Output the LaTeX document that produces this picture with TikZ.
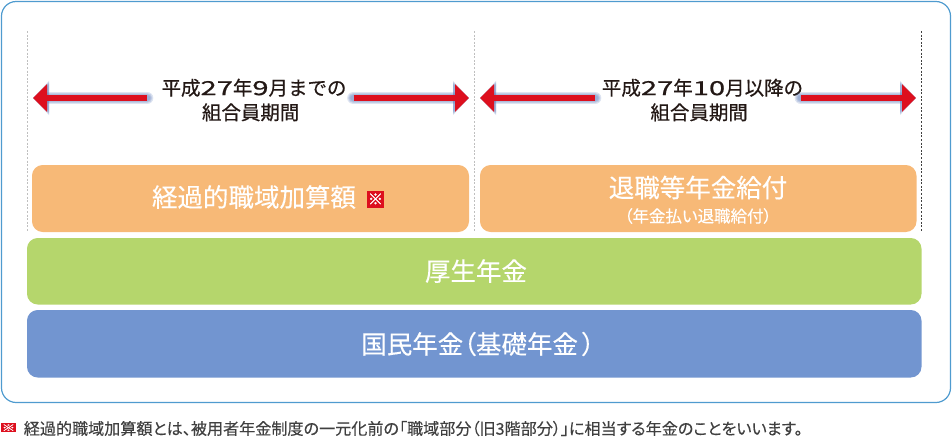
\documentclass[tikz,border=0pt]{standalone}
\usepackage{fontspec}
\usepackage{graphicx}
\usetikzlibrary{arrows.meta}
\setmainfont{Noto Sans CJK JP}[RawFeature=+palt]
\newfontfamily\fullwidthjp{Noto Sans CJK JP}[FakeBold=0.6]
\newfontfamily\semijp{Noto Sans CJK JP}[RawFeature=+palt, FakeBold=0.25]
\newfontfamily\heavyjp{Noto Sans CJK JP}[RawFeature=+palt, FakeBold=0.9]
\definecolor{framec}{HTML}{4F9BCF}
\definecolor{orangec}{HTML}{F7B977}
\definecolor{greenc}{HTML}{B5D66C}
\definecolor{bluec}{HTML}{7295D0}
\definecolor{redc}{HTML}{DD0F1E}
\definecolor{haloc}{HTML}{5A78B8}
\definecolor{inkc}{HTML}{231815}
\definecolor{notec}{HTML}{404040}
\newcommand{\pxfont}[1]{\fontsize{\dimexpr#1pt*3/4\relax}{\dimexpr#1pt*9/10\relax}\selectfont}
% digits of the period labels are set wide
\newcommand{\widedigits}[1]{\scalebox{1.5}[1]{#1}}
\tikzset{
  x=0.75pt, y=-0.75pt,
  guide/.style={dash pattern=on 1.5pt off 1.2pt, line width=0.5pt},
  period/.style={text=inkc, align=center, inner sep=0pt, font=\fullwidthjp\fontsize{14.6pt}{18.4pt}\selectfont},
  onband/.style={text=white, inner sep=0pt, font=\semijp\pxfont{25.5}},
  redarrow/.style={draw=redc, line width=4.4pt, -{Triangle[length=10.5pt,width=20pt,fill=redc]}},
  haloarrow/.style n args={2}{draw=haloc, line width=#1, line cap=round, opacity=0.2,
    -{Triangle[length=12pt,width=#2,fill=haloc]}},
}
% period arrow with a soft blue drop shadow
\newcommand{\periodarrow}[2]{%
  \begin{scope}[shift={(2.5,3.5)}]
    \foreach \w/\h in {9.5pt/25pt,8pt/23.5pt,6.5pt/22pt,5pt/20pt}{\draw[haloarrow={\w}{\h}] (#1) -- (#2);}
  \end{scope}
  \draw[redarrow] (#1) -- (#2);
}
\begin{document}
\begin{tikzpicture}
  \useasboundingbox (0,0) rectangle (952,437);
  \draw[framec, line width=0.9pt, rounded corners=11pt] (1.5,1.5) rectangle (950.5,402.5);

  % guides between the two periods
  \coordinate (g1t) at (27.5,31);  \coordinate (g1b) at (27.5,232);
  \coordinate (g2t) at (474.5,31); \coordinate (g2b) at (474.5,232);
  \coordinate (g3t) at (921.5,31); \coordinate (g3b) at (921.5,232);
  \draw[guide, draw=black!25] (g1t) -- (g1b);
  \draw[guide, draw=black!25] (g2t) -- (g2b);
  \draw[guide, draw=black!75] (g3t) -- (g3b);

  % benefit layers
  \fill[orangec, rounded corners=8pt] (32,165) rectangle (469,232);
  \fill[orangec, rounded corners=8pt] (480,165) rectangle (916.5,232);
  \fill[greenc, rounded corners=8pt] (27,238) rectangle (921.5,304.5);
  \fill[bluec, rounded corners=8pt] (27,310) rectangle (921.5,377.5);

  \node[onband] (kakou) at (254,197) {経過的職域加算額};
  \fill[redc] (367,190.5) rectangle (384,208);
  \node[text=white, inner sep=0pt, font=\heavyjp\pxfont{15}] (kome) at (375.5,199) {※};
  \node[onband] (taishoku) at (698,187.5) {退職等年金給付};
  \node[onband, font=\semijp\pxfont{16.5}] (harai) at (698,216) {（年金払い退職給付）};
  \node[onband] (kousei) at (476,271) {厚生年金};
  \node[onband] (kokumin) at (478,344) {国民年金（基礎年金\kern3pt）};

  % period labels and their arrows
  \node[period] (p1) at (254,100) {平成\widedigits{27}年\widedigits{9}月までの\\組合員期間\kern5pt};
  \node[period] (p2) at (702.5,100) {平成\widedigits{27}年\widedigits{10}月以降の\\組合員期間\kern5pt};
  \coordinate (a1l) at (33,98);  \coordinate (a1r) at (469,98);
  \coordinate (a2l) at (480,98); \coordinate (a2r) at (916,98);
  \coordinate (s1l) at (147,98); \coordinate (s1r) at (353.5,98);
  \coordinate (s2l) at (595,98); \coordinate (s2r) at (801,98);
  \periodarrow{s1l}{a1l}
  \periodarrow{s1r}{a1r}
  \periodarrow{s2l}{a2l}
  \periodarrow{s2r}{a2r}

  % footnote
  \fill[redc] (1,423) rectangle (16,432);
  \node[text=white, inner sep=0pt, font=\heavyjp\pxfont{9}] (komes) at (8.5,427.7) {\scalebox{1.5}[1]{※}};
  \node[text=notec, anchor=west, inner sep=0pt, font=\semijp\pxfont{16.1}] (note) at (23.5,428.5)
    {経過的職域加算額とは、被用者年金制度の一元化前の「職域部分（旧3階部分）」に相当する年金のことをいいます。};
\end{tikzpicture}
\end{document}
